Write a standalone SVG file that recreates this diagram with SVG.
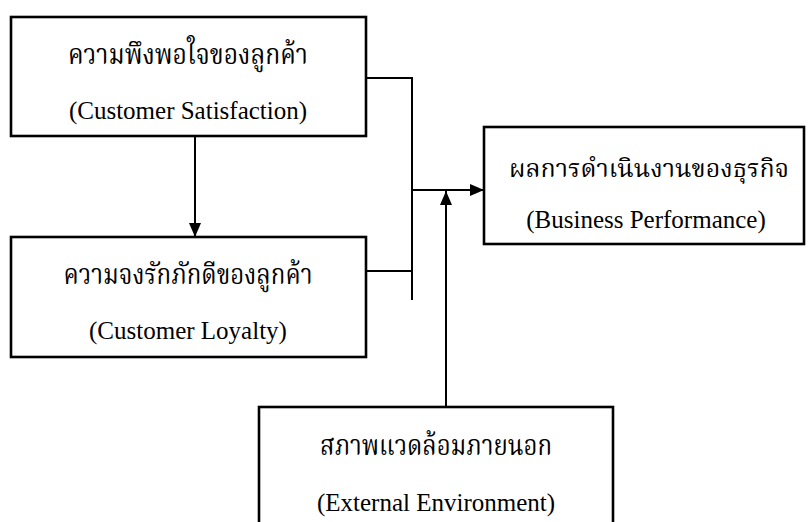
<svg xmlns="http://www.w3.org/2000/svg" width="809" height="522" viewBox="0 0 809 522">
<style>
.box{fill:#fff;stroke:#000;stroke-width:2.6}
.ln{fill:none;stroke:#000;stroke-width:2}
.th{font-family:"Liberation Serif","Noto Serif Thai","Noto Sans Thai",serif;font-size:29px;fill:#000;text-anchor:middle}
.en{font-family:"Liberation Serif","Times New Roman",serif;font-size:25px;fill:#000;text-anchor:middle}
</style>
<defs>
<marker id="ah" viewBox="0 0 14 12" refX="14" refY="6" markerWidth="14" markerHeight="12" markerUnits="userSpaceOnUse" orient="auto">
<path d="M0,0 L14,6 L0,12 Z" fill="#000"/>
</marker>
</defs>
<rect width="809" height="522" fill="#fff"/>
<g id="connectors">
<path class="ln" d="M366,78 H412 V300"/>
<path class="ln" d="M366,271 H412"/>
<path class="ln" d="M412,190 H484" marker-end="url(#ah)"/>
<path class="ln" d="M446,407 V191" marker-end="url(#ah)"/>
<path class="ln" d="M195,136 V237" marker-end="url(#ah)"/>
</g>
<g id="satisfaction">
<rect class="box" x="11" y="17" width="355" height="119"/>
<text class="th" x="188" y="64" textLength="240" lengthAdjust="spacingAndGlyphs">ความพึงพอใจของลูกค้า</text>
<text class="en" x="188" y="119">(Customer Satisfaction)</text>
</g>
<g id="loyalty">
<rect class="box" x="11" y="237" width="355" height="120"/>
<text class="th" x="188" y="284" textLength="249" lengthAdjust="spacingAndGlyphs">ความจงรักภักดีของลูกค้า</text>
<text class="en" x="188" y="339">(Customer Loyalty)</text>
</g>
<g id="performance">
<rect class="box" x="484" y="127" width="320" height="117"/>
<text class="th" x="649" y="177" style="font-size:25px">ผลการดำเนินงานของธุรกิจ</text>
<text class="en" x="646" y="228">(Business Performance)</text>
</g>
<g id="environment">
<rect class="box" x="259" y="407" width="354" height="125"/>
<text class="th" x="436" y="455" textLength="232" lengthAdjust="spacingAndGlyphs">สภาพแวดล้อมภายนอก</text>
<text class="en" x="436" y="511">(External Environment)</text>
</g>
</svg>
